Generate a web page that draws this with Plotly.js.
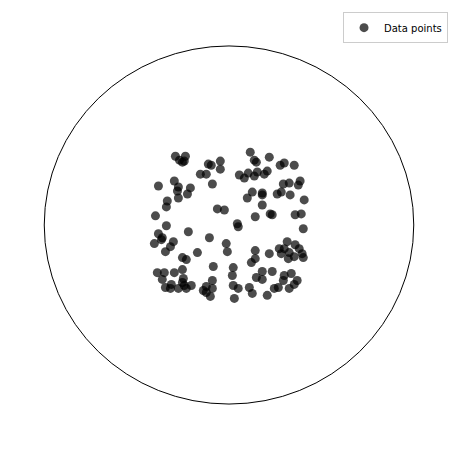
<!DOCTYPE html>
<html><head><meta charset="utf-8">
<script src="https://cdn.plot.ly/plotly-3.0.1.min.js"></script>
<style>body{margin:0;background:#fff}#c{width:460px;height:449px}</style>
</head><body><div id="c"></div>
<script>
const xs = [-0.290,-0.268,-0.252,-0.236,-0.242,-0.112,-0.096,-0.047,-0.047,-0.155,-0.123,-0.090,-0.382,-0.296,-0.274,-0.279,-0.209,-0.225,-0.274,-0.334,-0.339,-0.063,-0.025,-0.398,-0.339,
0.115,0.137,0.148,0.218,0.277,0.299,0.353,0.056,0.083,0.104,0.137,0.153,0.191,0.207,0.294,0.326,0.375,0.385,0.126,0.099,0.180,0.180,0.261,0.283,0.331,0.407,0.180,0.142,0.223,0.234,0.358,0.391,0.045,
-0.382,-0.361,-0.366,-0.404,-0.301,-0.317,-0.344,-0.220,-0.106,-0.015,-0.009,-0.171,-0.252,-0.231,-0.085,-0.388,-0.350,-0.361,-0.344,-0.312,-0.317,-0.296,-0.252,-0.247,-0.252,-0.242,-0.274,-0.231,-0.204,-0.090,-0.090,-0.123,-0.139,-0.123,-0.101,
0.050,0.402,0.315,0.272,0.299,0.358,0.380,0.326,0.321,0.353,0.396,0.402,0.283,0.218,0.142,0.142,0.121,0.023,0.018,0.180,0.148,0.180,0.234,0.299,0.337,0.294,0.369,0.353,0.326,0.023,0.050,0.110,0.126,0.029,0.207,0.245,0.267];
const ys = [0.384,0.362,0.351,0.384,0.357,0.340,0.334,0.357,0.312,0.284,0.284,0.229,0.218,0.246,0.212,0.190,0.207,0.173,0.151,0.134,0.101,0.090,0.084,0.051,-0.004,
0.407,0.362,0.351,0.379,0.334,0.346,0.334,0.279,0.262,0.290,0.273,0.296,0.284,0.301,0.229,0.234,0.223,0.246,0.184,0.151,0.179,0.168,0.173,0.184,0.168,0.140,0.112,0.046,0.062,0.057,0.057,0.062,0.007,
-0.049,-0.071,-0.082,-0.104,-0.093,-0.121,-0.149,-0.038,-0.071,-0.104,-0.149,-0.154,-0.182,-0.193,-0.232,-0.266,-0.266,-0.304,-0.349,-0.332,-0.354,-0.266,-0.249,-0.299,-0.321,-0.338,-0.354,-0.354,-0.338,-0.310,-0.354,-0.343,-0.366,-0.377,-0.399,
-0.010,-0.021,-0.093,-0.132,-0.132,-0.110,-0.132,-0.154,-0.188,-0.177,-0.160,-0.182,-0.160,-0.160,-0.143,-0.188,-0.210,-0.238,-0.282,-0.260,-0.293,-0.304,-0.260,-0.282,-0.271,-0.310,-0.310,-0.332,-0.354,-0.338,-0.354,-0.349,-0.382,-0.410,-0.393,-0.354,-0.349];
const seriesName = 'Data points';

const trace = {
  x: xs, y: ys, type: 'scatter', mode: 'markers', name: seriesName,
  marker: {color: 'black', size: 9, opacity: 0.7, line: {width: 0}},
  showlegend: true, hoverinfo: 'skip'
};
const layout = {
  width: 460, height: 449,
  margin: {l: 35.45, r: 36.05, t: 35.2, b: 35.8, pad: 0},
  paper_bgcolor: 'white', plot_bgcolor: 'white',
  xaxis: {range: [-1.05, 1.05], visible: false, fixedrange: true},
  yaxis: {range: [-1.05, 1.05], visible: false, fixedrange: true},
  showlegend: true,
  legend: {x: 1.0645, y: 1.066, xanchor: 'right', yanchor: 'top',
    bordercolor: '#cccccc', borderwidth: 1, bgcolor: 'white',
    itemwidth: 30, tracegroupgap: 0,
    font: {family: 'DejaVu Sans', size: 10, color: 'black'}},
  shapes: [{type: 'circle', xref: 'x', yref: 'y', x0: -1, x1: 1, y0: -1, y1: 1,
    line: {color: 'black', width: 1}, layer: 'below'}]
};
Plotly.newPlot('c', [trace], layout, {displayModeBar: false, staticPlot: true});
</script></body></html>
